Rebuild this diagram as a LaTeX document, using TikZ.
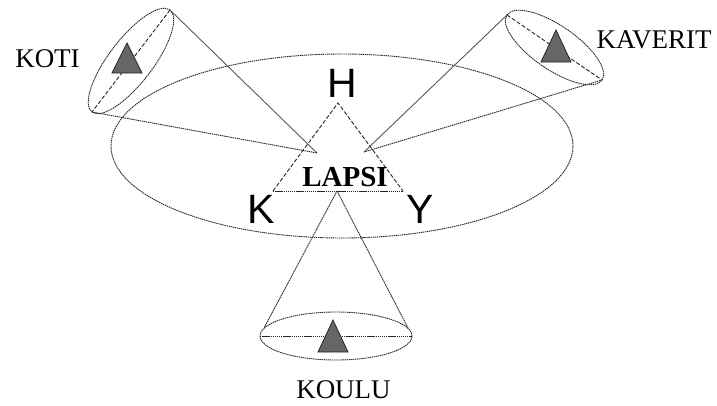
\documentclass[tikz,border=0pt]{standalone}
\usepackage{fontspec}
\setmainfont{Liberation Serif}
\newfontfamily\labsans{Liberation Sans}
\begin{document}
\begin{tikzpicture}[x=1pt,y=-1pt,
  dotline/.style={draw=black!85,line width=0.9pt,dash pattern=on 1.4pt off 0.7pt},
  dashline/.style={draw=black!85,line width=0.9pt,dash pattern=on 4pt off 2pt},
  conesolid/.style={draw=black!65,line width=0.9pt},
  marker/.style={fill=black!60,draw=black!85,line width=0.8pt},
  place/.style={font=\fontsize{27}{32}\selectfont,inner sep=0pt,anchor=base},
  corner/.style={font=\labsans\fontsize{41}{48}\selectfont,inner sep=0pt,anchor=base}]
\useasboundingbox[fill=white] (0,0) rectangle (717,405);
% big ellipse
\draw[dotline] (342,146) ellipse (231pt and 92pt);
% LAPSI triangle
\coordinate (ltop) at (338,103);
\coordinate (lleft) at (273,191);
\coordinate (lright) at (403,191);
\draw[dashline] (lleft) -- (ltop) -- (lright);
\draw[dotline] (lleft) -- (lright);
% KOTI cone
\coordinate (kotic) at (131,61);
\coordinate (kotitop) at (170,10);
\coordinate (kotibot) at (92,112);
\coordinate (kotiapex) at (317,153);
\draw[dotline,rotate around={52.6:(kotic)}] (kotic) ellipse (64.2pt and 22pt);
\draw[dashline] (kotitop) -- (kotibot);
\draw[conesolid] (kotitop) -- (kotiapex);
\draw[dotline] (kotibot) -- (kotiapex);
\draw[marker] (127,43) -- (142,73) -- (112,73) -- cycle;
% KAVERIT cone
\coordinate (kavc) at (554.5,47.5);
\coordinate (kavtop) at (507,15);
\coordinate (kavbot) at (602,80);
\coordinate (kavapex) at (364,152);
\draw[dotline,rotate around={-34.4:(kavc)}] (kavc) ellipse (57.6pt and 22pt);
\draw[dashline] (kavtop) -- (kavbot);
\draw[conesolid] (kavtop) -- (kavapex);
\draw[dotline] (kavbot) -- (kavapex);
\draw[marker] (556,30) -- (571,62) -- (541,62) -- cycle;
% KOULU cone
\coordinate (kouc) at (336,336);
\coordinate (kouapex) at (337,191);
\coordinate (koul) at (264,328);
\coordinate (kour) at (408,328);
\draw[dotline] (kouc) ellipse (76pt and 24pt);
\draw[dotline] (260,336) -- (412,336);
\draw[dotline] (kouapex) -- (koul);
\draw[dotline] (kouapex) -- (kour);
\draw[marker] (333,320) -- (348,352) -- (318,352) -- cycle;
% labels
\node[place] (koti) at (47.5,67) {KOTI};
\node[place] (kaverit) at (654,48) {KAVERIT};
\node[place] (koulu) at (343.5,398) {KOULU};
\node[inner sep=0pt,anchor=base,font=\bfseries\fontsize{29}{34}\selectfont] (lapsi) at (345,186) {LAPSI};
\node[corner] (h) at (342,97) {H};
\node[corner] (k) at (261,223) {K};
\node[corner] (y) at (420,223) {Y};
\end{tikzpicture}
\end{document}
